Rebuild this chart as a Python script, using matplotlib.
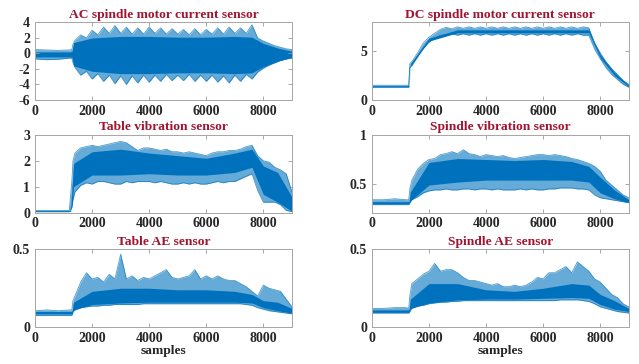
import matplotlib
matplotlib.use("Agg")
import matplotlib.pyplot as plt

plt.rcParams['font.family'] = ['Liberation Serif', 'DejaVu Serif']
plt.rcParams['font.weight'] = 'bold'

BLUE = '#0072BD'
TITLE_RED = '#A2142F'

# sample positions for the outer envelope and for the dense core band
x_outer = [0, 400, 800, 1200, 1290, 1330] + list(range(1400, 9001, 200))
x_core = [0, 1250, 1300, 1350, 2000, 3000, 4000, 5000, 6000, 7000, 7600, 8000, 8500, 9000]

titles = ['AC spindle motor current sensor', 'DC spindle motor current sensor',
          'Table vibration sensor', 'Spindle vibration sensor',
          'Table AE sensor', 'Spindle AE sensor']

# AC spindle motor current
ac_hi = [0.5, 0.45, 0.4, 0.45, 0.5, 1.2,
         1.7, 2.4, 2.0, 3.0, 2.4, 3.4, 2.6, 3.6, 2.6, 3.4, 2.5, 3.3, 2.5, 3.4, 2.6, 3.3,
         2.5, 3.2, 2.5, 3.1, 2.4, 3.2, 2.4, 3.1, 2.5, 3.3, 2.5, 3.4, 2.6, 3.3, 2.6, 3.7,
         2.0, 1.6, 1.3, 1.0, 0.8, 0.6, 0.5]
ac_lo = [-0.7, -0.8, -0.75, -0.6, -0.6, -1.2,
         -1.8, -2.8, -2.3, -3.3, -2.6, -3.6, -2.8, -3.9, -2.9, -4.0, -2.9, -3.8, -2.8, -3.7,
         -2.8, -3.6, -2.7, -3.5, -2.8, -3.5, -2.7, -3.6, -2.8, -3.6, -2.8, -3.7, -2.9, -3.8,
         -2.8, -3.6, -2.7, -3.3, -2.4, -1.9, -1.5, -1.2, -0.9, -0.7, -0.6]
ac_core_hi = [0.2, 0.2, 0.3, 1.4, 2.0, 2.2, 2.2, 2.1, 2.1, 2.2, 2.1, 1.3, 0.7, 0.3]
ac_core_lo = [-0.45, -0.45, -0.5, -1.6, -2.3, -2.6, -2.6, -2.5, -2.5, -2.6, -2.5, -1.7, -1.0, -0.5]

# DC spindle motor current
dc_hi = [1.5, 1.5, 1.5, 1.5, 1.5, 3.7,
         3.9, 4.8, 5.8, 6.4, 6.8, 7.2, 7.4, 7.25, 7.45, 7.3, 7.45, 7.3, 7.45, 7.3, 7.45, 7.3,
         7.45, 7.3, 7.45, 7.3, 7.45, 7.3, 7.45, 7.3, 7.45, 7.3, 7.45, 7.3, 7.45, 7.3, 7.45,
         7.35, 5.8, 4.8, 3.9, 3.2, 2.6, 2.0, 1.6]
dc_lo = [1.3, 1.3, 1.3, 1.3, 1.3, 3.3,
         3.5, 4.4, 5.3, 5.9, 6.3, 6.6, 6.6, 6.75, 6.6, 6.75, 6.6, 6.75, 6.6, 6.75, 6.6, 6.75,
         6.6, 6.75, 6.6, 6.75, 6.6, 6.75, 6.6, 6.75, 6.6, 6.75, 6.6, 6.75, 6.6, 6.75, 6.6,
         6.6, 5.2, 4.2, 3.3, 2.6, 2.1, 1.6, 1.3]
dc_core_hi = [1.45, 1.45, 1.45, 3.7, 6.3, 7.15, 7.15, 7.15, 7.15, 7.15, 7.15, 4.6, 2.8, 1.5]
dc_core_lo = [1.35, 1.35, 1.35, 3.5, 6.0, 6.85, 6.85, 6.85, 6.85, 6.85, 6.85, 4.3, 2.5, 1.35]

# table vibration
tv_hi = [0.08, 0.08, 0.08, 0.08, 1.2, 2.0,
         2.3, 2.5, 2.55, 2.6, 2.55, 2.6, 2.65, 2.7, 2.75, 2.7, 2.55, 2.4, 2.5, 2.5, 2.45,
         2.4, 2.45, 2.35, 2.35, 2.3, 2.35, 2.3, 2.25, 2.2, 2.3, 2.35, 2.35, 2.4, 2.4, 2.45,
         2.55, 2.6, 2.2, 2.0, 1.95, 1.75, 1.65, 1.5, 0.8]
tv_lo = [0.03, 0.03, 0.03, 0.03, 0.2, 0.5,
         0.8, 1.05, 1.15, 1.1, 1.2, 1.2, 1.15, 1.1, 1.1, 1.2, 1.15, 1.2, 1.2, 1.2, 1.15,
         1.2, 1.15, 1.1, 1.1, 1.15, 1.1, 1.15, 1.1, 1.1, 1.15, 1.2, 1.15, 1.2, 1.2, 1.3,
         1.4, 1.5, 0.85, 0.4, 0.4, 0.4, 0.3, 0.08, 0.03]
tv_core_hi = [0.07, 0.07, 1.0, 1.9, 2.35, 2.45, 2.3, 2.2, 2.1, 2.3, 2.45, 1.8, 1.55, 0.6]
tv_core_lo = [0.04, 0.04, 0.3, 1.0, 1.45, 1.45, 1.5, 1.45, 1.45, 1.55, 1.75, 0.7, 0.4, 0.05]

# spindle vibration
sv_hi = [0.34, 0.34, 0.35, 0.34, 0.34, 0.45,
         0.54, 0.65, 0.71, 0.75, 0.76, 0.8, 0.81, 0.83, 0.81, 0.85, 0.81, 0.8, 0.78, 0.8,
         0.79, 0.78, 0.79, 0.77, 0.76, 0.77, 0.78, 0.79, 0.8, 0.8, 0.79, 0.8, 0.79, 0.78,
         0.76, 0.75, 0.73, 0.71, 0.68, 0.63, 0.54, 0.49, 0.44, 0.39, 0.36]
sv_lo = [0.29, 0.29, 0.29, 0.29, 0.29, 0.31,
         0.34, 0.37, 0.41, 0.43, 0.44, 0.44, 0.45, 0.44, 0.44, 0.45, 0.45, 0.44, 0.45, 0.45,
         0.44, 0.45, 0.44, 0.44, 0.44, 0.45, 0.44, 0.45, 0.44, 0.44, 0.45, 0.45, 0.46, 0.46,
         0.46, 0.45, 0.45, 0.44, 0.39, 0.36, 0.35, 0.34, 0.33, 0.32, 0.31]
sv_core_hi = [0.32, 0.32, 0.32, 0.42, 0.72, 0.76, 0.75, 0.74, 0.75, 0.73, 0.68, 0.57, 0.44, 0.34]
sv_core_lo = [0.3, 0.3, 0.3, 0.33, 0.49, 0.52, 0.54, 0.54, 0.54, 0.54, 0.52, 0.41, 0.35, 0.31]

# table AE
tae_hi = [0.105, 0.11, 0.105, 0.11, 0.11, 0.17,
          0.2, 0.29, 0.35, 0.31, 0.32, 0.29, 0.34, 0.31, 0.47, 0.31, 0.33, 0.3, 0.32, 0.31,
          0.33, 0.35, 0.37, 0.32, 0.31, 0.32, 0.33, 0.37, 0.31, 0.33, 0.31, 0.33, 0.31, 0.3,
          0.3, 0.28, 0.26, 0.23, 0.2, 0.27, 0.25, 0.24, 0.23, 0.18, 0.13]
tae_lo = [0.075, 0.075, 0.075, 0.075, 0.075, 0.1,
          0.11, 0.125, 0.13, 0.135, 0.135, 0.14, 0.14, 0.145, 0.145, 0.145, 0.145, 0.145,
          0.15, 0.15, 0.15, 0.15, 0.15, 0.15, 0.15, 0.15, 0.15, 0.15, 0.15, 0.15, 0.15, 0.15,
          0.15, 0.15, 0.15, 0.15, 0.145, 0.14, 0.125, 0.115, 0.105, 0.1, 0.095, 0.09, 0.085]
tae_core_hi = [0.1, 0.1, 0.1, 0.16, 0.23, 0.25, 0.25, 0.24, 0.24, 0.23, 0.21, 0.17, 0.16, 0.12]
tae_core_lo = [0.085, 0.085, 0.085, 0.11, 0.145, 0.155, 0.16, 0.16, 0.16, 0.16, 0.155, 0.125, 0.105, 0.09]

# spindle AE
sae_hi = [0.12, 0.12, 0.125, 0.125, 0.12, 0.2,
          0.28, 0.31, 0.34, 0.36, 0.41, 0.36, 0.37, 0.37, 0.35, 0.32, 0.3, 0.3, 0.29, 0.28,
          0.27, 0.28, 0.26, 0.26, 0.27, 0.26, 0.27, 0.29, 0.32, 0.31, 0.35, 0.35, 0.37, 0.39,
          0.35, 0.42, 0.39, 0.36, 0.31, 0.29, 0.25, 0.21, 0.19, 0.15, 0.13]
sae_lo = [0.09, 0.09, 0.09, 0.09, 0.09, 0.1,
          0.12, 0.135, 0.14, 0.15, 0.155, 0.16, 0.16, 0.165, 0.165, 0.17, 0.17, 0.17, 0.17,
          0.17, 0.17, 0.17, 0.17, 0.17, 0.17, 0.17, 0.17, 0.17, 0.17, 0.17, 0.17, 0.17, 0.175,
          0.175, 0.175, 0.175, 0.17, 0.165, 0.15, 0.13, 0.12, 0.11, 0.1, 0.095, 0.09]
sae_core_hi = [0.11, 0.11, 0.11, 0.18, 0.28, 0.28, 0.24, 0.23, 0.25, 0.28, 0.27, 0.21, 0.17, 0.12]
sae_core_lo = [0.095, 0.095, 0.095, 0.12, 0.155, 0.175, 0.18, 0.18, 0.185, 0.19, 0.185, 0.145, 0.115, 0.1]

x_ticks = [0, 2000, 4000, 6000, 8000]
y_limits = [(-6, 4), (0, 7.9), (0, 3), (0.21, 1), (0, 0.5), (0, 0.5)]
y_ticks = [[-6, -4, -2, 0, 2, 4], [0, 5], [0, 1, 2, 3], [0.5, 1], [0, 0.5], [0, 0.5]]
y_labels = [['-6', '-4', '-2', '0', '2', '4'], ['0', '5'], ['0', '1', '2', '3'],
            ['0.5', '1'], ['0', '0.5'], ['0', '0.5']]

signals = [(ac_hi, ac_lo, ac_core_hi, ac_core_lo),
           (dc_hi, dc_lo, dc_core_hi, dc_core_lo),
           (tv_hi, tv_lo, tv_core_hi, tv_core_lo),
           (sv_hi, sv_lo, sv_core_hi, sv_core_lo),
           (tae_hi, tae_lo, tae_core_hi, tae_core_lo),
           (sae_hi, sae_lo, sae_core_hi, sae_core_lo)]

# axes boxes in figure fractions (left, bottom, width, height)
col_left = [0.0548, 0.582]
row_bottom = [0.7253, 0.4162, 0.1016]
box_w, box_h = 0.402, 0.213


def main():
    fig = plt.figure(figsize=(6.39, 3.64), dpi=100)
    for i, (hi, lo, core_hi, core_lo) in enumerate(signals):
        row, col = divmod(i, 2)
        ax = fig.add_axes([col_left[col], row_bottom[row], box_w, box_h])
        ax.fill_between(x_outer, lo, hi, color=BLUE, alpha=0.6, lw=0)
        ax.plot(x_outer, hi, color=BLUE, lw=0.6, alpha=0.7)
        ax.plot(x_outer, lo, color=BLUE, lw=0.6, alpha=0.7)
        ax.fill_between(x_core, core_lo, core_hi, color=BLUE, lw=0)

        ax.set_xlim(0, 9000)
        ax.set_ylim(*y_limits[i])
        ax.set_xticks(x_ticks)
        ax.set_xticklabels([str(t) for t in x_ticks])
        ax.set_yticks(y_ticks[i])
        ax.set_yticklabels(y_labels[i])
        ax.tick_params(direction='in', length=3, width=0.6, color='#9a9a9a',
                       labelsize=10, labelcolor='#262626', top=True, right=True, pad=3.5)
        for sp in ax.spines.values():
            sp.set_color('#a6a6a6')
            sp.set_linewidth(0.7)
        ax.set_title(titles[i], color=TITLE_RED, fontsize=9.7, fontweight='bold', pad=3.5)
        if row == 2:
            ax.set_xlabel('samples', fontsize=9.7, fontweight='bold', color='#262626', labelpad=0)

    fig.savefig('out.png', dpi=100)


if __name__ == "__main__":
    main()
